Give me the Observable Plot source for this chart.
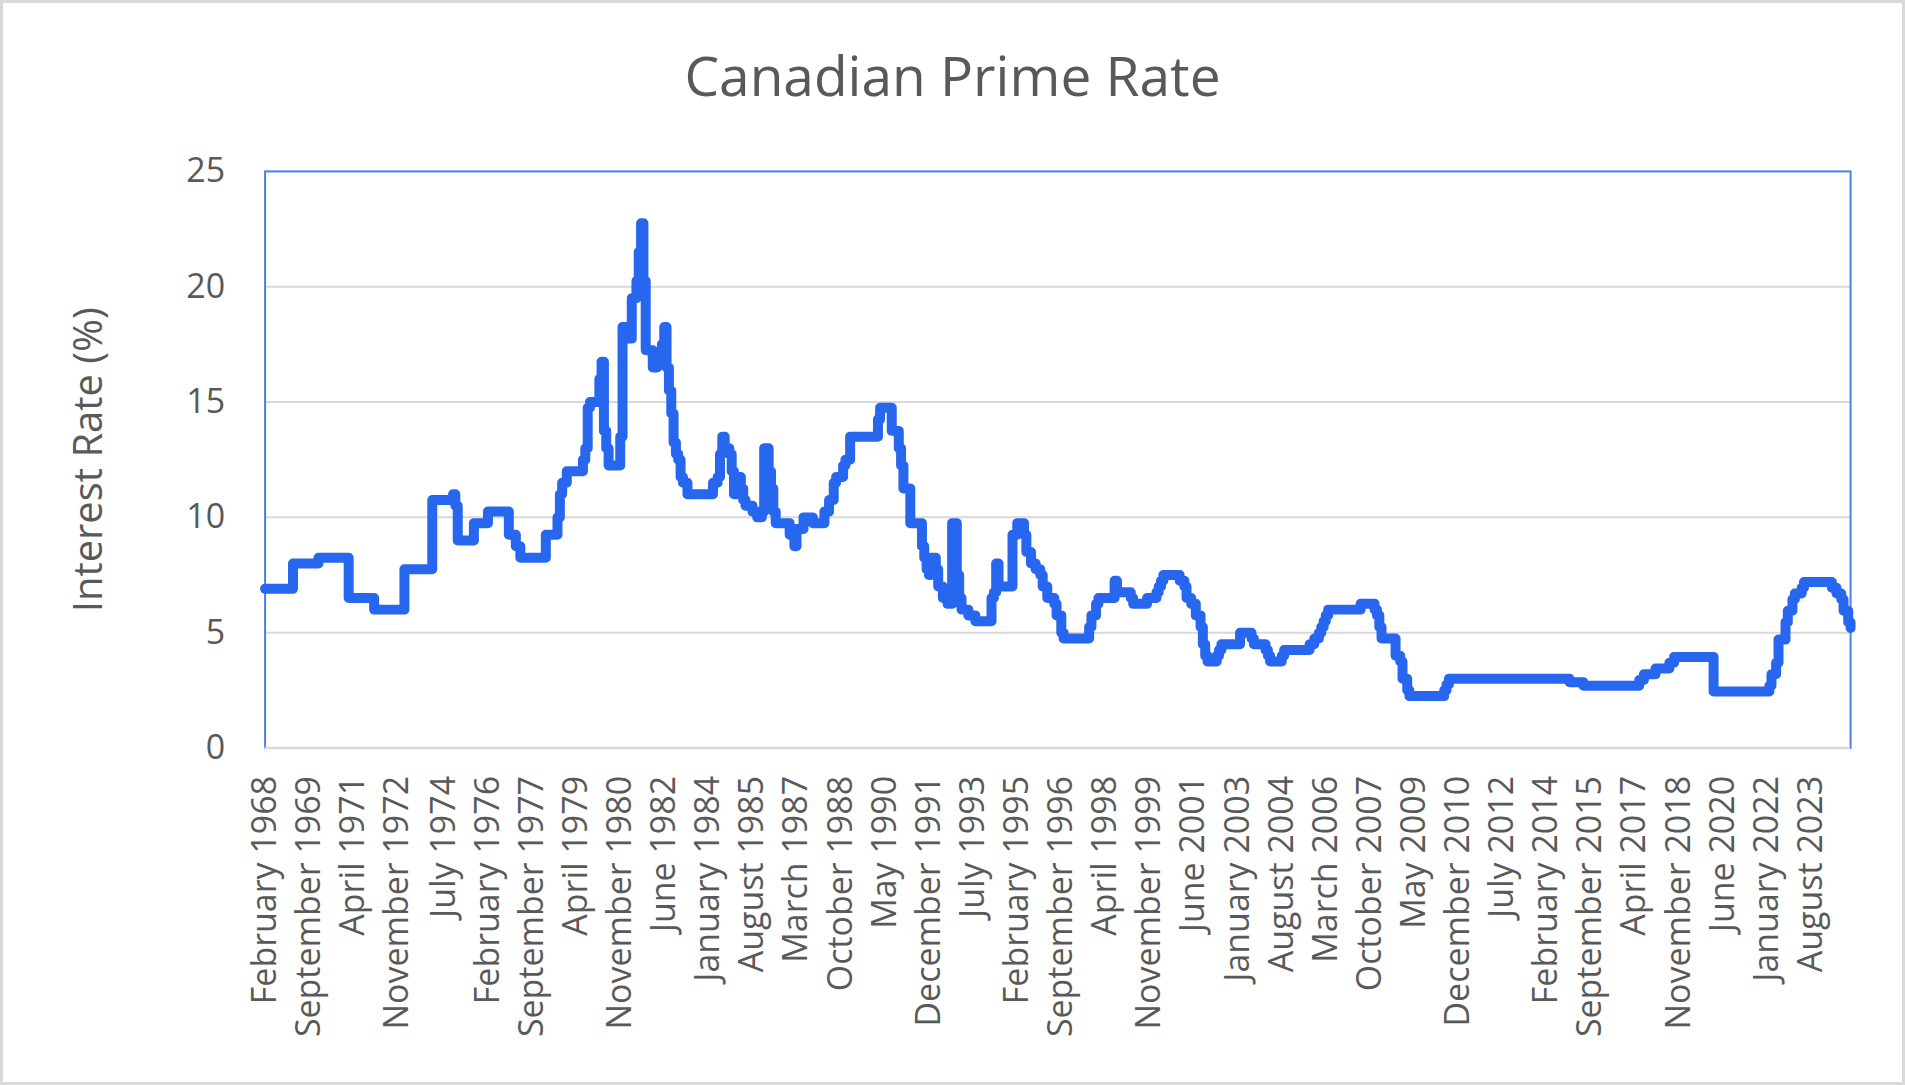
<!DOCTYPE html>
<html>
<head>
<meta charset="utf-8">
<script src="https://cdn.jsdelivr.net/npm/d3@7"></script>
<script src="https://cdn.jsdelivr.net/npm/@observablehq/plot@0.6"></script>
<style>
html,body{margin:0;padding:0;background:#fff;}
#chart{position:relative;width:1905px;height:1085px;box-sizing:border-box;border:3px solid #d9d9d9;font-family:"Open Sans",sans-serif;overflow:hidden;background:#fff;}
#title{position:absolute;left:0;top:44px;width:100%;text-align:center;font-size:55px;line-height:1;color:#595959;}
#plot{position:absolute;left:-3px;top:117px;}
</style>
</head>
<body>
<div id="chart"><div id="title">Canadian Prime Rate</div><div id="plot"></div></div>
<script>
// Month at which the rate changes (step series) and the rate from that month on
const changeMonths = [
"1968-02","1969-02","1970-01","1971-02","1972-01","1973-02","1974-02","1974-11","1974-12","1975-01",
"1975-08","1976-02","1976-11","1977-02","1977-04","1978-03","1978-08","1978-09","1978-10","1978-12",
"1979-07","1979-08","1979-09","1979-10","1980-02","1980-03","1980-04","1980-05","1980-06","1980-11",
"1980-12","1981-02","1981-04","1981-06","1981-07","1981-08","1981-09","1981-10","1982-01","1982-03",
"1982-05","1982-06","1982-07","1982-08","1982-09","1982-10","1982-11","1982-12","1983-01","1983-02",
"1983-04","1984-03","1984-05","1984-06","1984-07","1984-08","1984-10","1984-11","1984-12","1985-02",
"1985-03","1985-04","1985-05","1985-08","1985-10","1985-12","1986-01","1986-03","1986-04","1986-05",
"1986-06","1986-12","1987-02","1987-03","1987-06","1987-10","1988-03","1988-05","1988-07","1988-08",
"1988-11","1988-12","1989-02","1990-02","1990-03","1990-08","1990-11","1990-12","1991-01","1991-04",
"1991-09","1991-10","1991-11","1991-12","1992-01","1992-03","1992-04","1992-06","1992-08","1992-10",
"1992-12","1993-01","1993-02","1993-05","1993-08","1994-03","1994-04","1994-05","1994-06","1994-12",
"1995-02","1995-05","1995-06","1995-08","1995-10","1995-12","1996-01","1996-03","1996-06","1996-07",
"1996-09","1996-10","1997-09","1997-10","1997-12","1998-01","1998-08","1998-09","1999-03","1999-04",
"1999-10","2000-02","2000-03","2000-04","2000-05","2000-12","2001-02","2001-03","2001-05","2001-07",
"2001-09","2001-10","2001-11","2001-12","2002-04","2002-05","2002-06","2003-02","2003-07","2003-08",
"2004-01","2004-02","2004-03","2004-08","2004-09","2005-08","2005-10","2005-12","2006-01","2006-02",
"2006-03","2006-04","2007-06","2007-12","2008-01","2008-02","2008-03","2008-09","2008-11","2008-12",
"2009-02","2009-03","2010-06","2010-07","2010-08","2014-12","2015-06","2017-06","2017-08","2018-01",
"2018-07","2018-09","2020-02","2022-02","2022-03","2022-05","2022-06","2022-09","2022-10","2022-12",
"2023-01","2023-04","2023-05","2024-05","2024-07","2024-09","2024-10","2024-12","2025-01"
];
const rates = [
6.9,8.0,8.25,6.5,6.0,7.75,10.75,11.0,10.5,9.0,
9.75,10.25,9.25,8.75,8.25,9.25,10.0,11.0,11.5,12.0,
12.5,13.0,14.75,15.0,16.0,16.75,13.75,13.0,12.25,13.5,
18.25,17.75,19.5,20.25,21.5,22.75,20.25,17.25,16.5,17.0,
17.5,18.25,16.5,15.5,14.5,13.25,12.75,12.5,11.75,11.5,
11.0,11.5,11.75,12.75,13.5,13.0,12.75,12.0,11.0,11.75,
11.25,10.75,10.5,10.25,10.0,10.25,13.0,12.0,11.25,10.25,
9.75,9.25,8.75,9.5,10.0,9.75,10.25,10.75,11.5,11.75,
12.25,12.5,13.5,14.25,14.75,13.75,13.0,12.25,11.25,9.75,
8.75,8.25,7.75,7.5,8.25,7.75,7.0,6.5,6.25,9.75,
7.5,6.5,6.0,5.75,5.5,6.5,6.75,8.0,7.0,9.25,
9.75,9.25,8.5,8.0,7.75,7.5,7.0,6.5,6.25,5.75,
5.0,4.75,5.25,5.75,6.25,6.5,7.25,6.75,6.5,6.25,
6.5,6.75,7.0,7.25,7.5,7.25,7.0,6.5,6.25,5.75,
5.25,4.5,4.0,3.75,4.0,4.25,4.5,5.0,4.75,4.5,
4.25,4.0,3.75,4.0,4.25,4.5,4.75,5.0,5.25,5.5,
5.75,6.0,6.25,6.0,5.75,5.25,4.75,4.0,3.75,3.0,
2.5,2.25,2.5,2.75,3.0,2.85,2.7,2.95,3.2,3.45,
3.7,3.95,2.45,2.7,3.2,3.7,4.7,5.45,5.95,6.45,
6.7,6.95,7.2,6.95,6.7,6.45,5.95,5.45,5.2
];
const tickLabels = [
"February 1968","September 1969","April 1971","November 1972","July 1974","February 1976",
"September 1977","April 1979","November 1980","June 1982","January 1984","August 1985",
"March 1987","October 1988","May 1990","December 1991","July 1993","February 1995",
"September 1996","April 1998","November 1999","June 2001","January 2003","August 2004",
"March 2006","October 2007","May 2009","December 2010","July 2012","February 2014",
"September 2015","April 2017","November 2018","June 2020","January 2022","August 2023"
];
const yTicks = [0, 5, 10, 15, 20, 25];
const gridValues = [5, 10, 15, 20];
const yTitle = ["Interest Rate (%)"];

const parseMonth = d3.utcParse("%Y-%m");
const parseLabel = d3.utcParse("%B %Y");
const fmt = d3.utcFormat("%B %Y");
const data = changeMonths.map((m, i) => ({date: parseMonth(m), rate: rates[i]}));
const xTicks = tickLabels.map(parseLabel);

const svgH = 965, mTop = 51, plotH = 577.5;
const chart = Plot.plot({
  width: 1905,
  height: svgH,
  marginLeft: 265,
  marginRight: 52,
  marginTop: mTop,
  marginBottom: svgH - mTop - plotH,
  style: {fontFamily: "'Open Sans', sans-serif", fontSize: "34px", color: "#595959", background: "transparent", overflow: "visible"},
  x: {type: "utc", domain: [parseMonth("1968-02"), parseMonth("2025-01")], ticks: xTicks, tickFormat: fmt, tickRotate: -90, tickSize: 0, tickPadding: 28, label: null},
  y: {domain: [0, 25], ticks: yTicks, tickSize: 0, tickPadding: 40, label: null},
  marks: [
    Plot.ruleY(gridValues, {stroke: "#d9d9d9", strokeWidth: 2}),
    Plot.frame({stroke: "#4a7fe8", strokeWidth: 2}),
    Plot.ruleY([0], {stroke: "#d9d9d9", strokeWidth: 2.5}),
    Plot.lineY(data, {x: "date", y: "rate", curve: "step-after", stroke: "#2766ee", strokeWidth: 10, strokeLinejoin: "round", strokeLinecap: "round"}),
    Plot.text(yTitle, {text: d => d, frameAnchor: "left", textAnchor: "middle", dx: -176, rotate: -90, fontSize: 40, fill: "#595959"})
  ]
});
document.getElementById("plot").appendChild(chart);
</script>
</body>
</html>
